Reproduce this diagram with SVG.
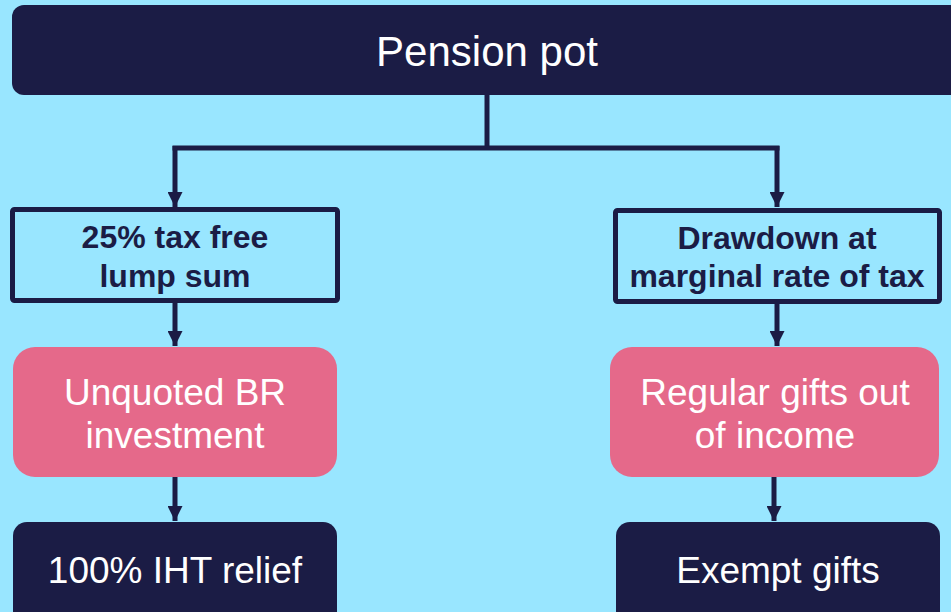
<svg xmlns="http://www.w3.org/2000/svg" width="951" height="612" viewBox="0 0 951 612">
<defs>
<style>
.dark{fill:#1B1C45}
.pink{fill:#E5698A}
.outline{fill:none;stroke:#1B1C45;stroke-width:5}
.wt{fill:#FFFFFF;font-family:"Liberation Sans",Arial,sans-serif;text-anchor:middle}
.bt{fill:#1B1C45;font-family:"Liberation Sans",Arial,sans-serif;font-weight:bold;font-size:32px;text-anchor:middle}
.conn{fill:none;stroke:#1B1C45;stroke-width:5}
</style>
<marker id="arr" viewBox="0 0 10 10" refX="10" refY="5" markerWidth="3" markerHeight="3" orient="auto" markerUnits="strokeWidth">
<path d="M0,0 L10,5 L0,10 z" fill="#1B1C45"/>
</marker>
</defs>
<rect width="951" height="612" fill="#99E6FF"/>
<g id="connectors">
<path class="conn" d="M487,95 V148"/>
<path class="conn" d="M175,148 H777" stroke-linecap="square"/>
<path class="conn" d="M175,146 V207" marker-end="url(#arr)"/>
<path class="conn" d="M777,146 V207" marker-end="url(#arr)"/>
<path class="conn" d="M175,303 V346" marker-end="url(#arr)"/>
<path class="conn" d="M777,303 V346" marker-end="url(#arr)"/>
<path class="conn" d="M175,477 V521" marker-end="url(#arr)"/>
<path class="conn" d="M774,477 V521" marker-end="url(#arr)"/>
</g>
<g id="pension-pot">
<rect class="dark" x="12" y="5" width="960" height="90" rx="12"/>
<text class="wt" x="487" y="66" font-size="42">Pension pot</text>
</g>
<g id="lump-sum">
<rect class="outline" x="12.5" y="209.5" width="325" height="91" rx="2"/>
<text class="bt" x="175" y="248">25% tax free</text>
<text class="bt" x="175" y="287">lump sum</text>
</g>
<g id="drawdown">
<rect class="outline" x="615.5" y="210.5" width="324" height="91" rx="2"/>
<text class="bt" x="777" y="249">Drawdown at</text>
<text class="bt" x="777" y="287">marginal rate of tax</text>
</g>
<g id="unquoted">
<rect class="pink" x="13" y="347" width="324" height="130" rx="22"/>
<text class="wt" x="175" y="405" font-size="37">Unquoted BR</text>
<text class="wt" x="175" y="448" font-size="37">investment</text>
</g>
<g id="regular-gifts">
<rect class="pink" x="610" y="347" width="329" height="130" rx="22"/>
<text class="wt" x="775" y="405" font-size="37">Regular gifts out</text>
<text class="wt" x="775" y="448" font-size="37">of income</text>
</g>
<g id="iht-relief">
<rect class="dark" x="13" y="522" width="324" height="110" rx="14"/>
<text class="wt" x="175" y="583" font-size="37">100% IHT relief</text>
</g>
<g id="exempt-gifts">
<rect class="dark" x="616" y="522" width="324" height="110" rx="14"/>
<text class="wt" x="778" y="583" font-size="37">Exempt gifts</text>
</g>
</svg>
